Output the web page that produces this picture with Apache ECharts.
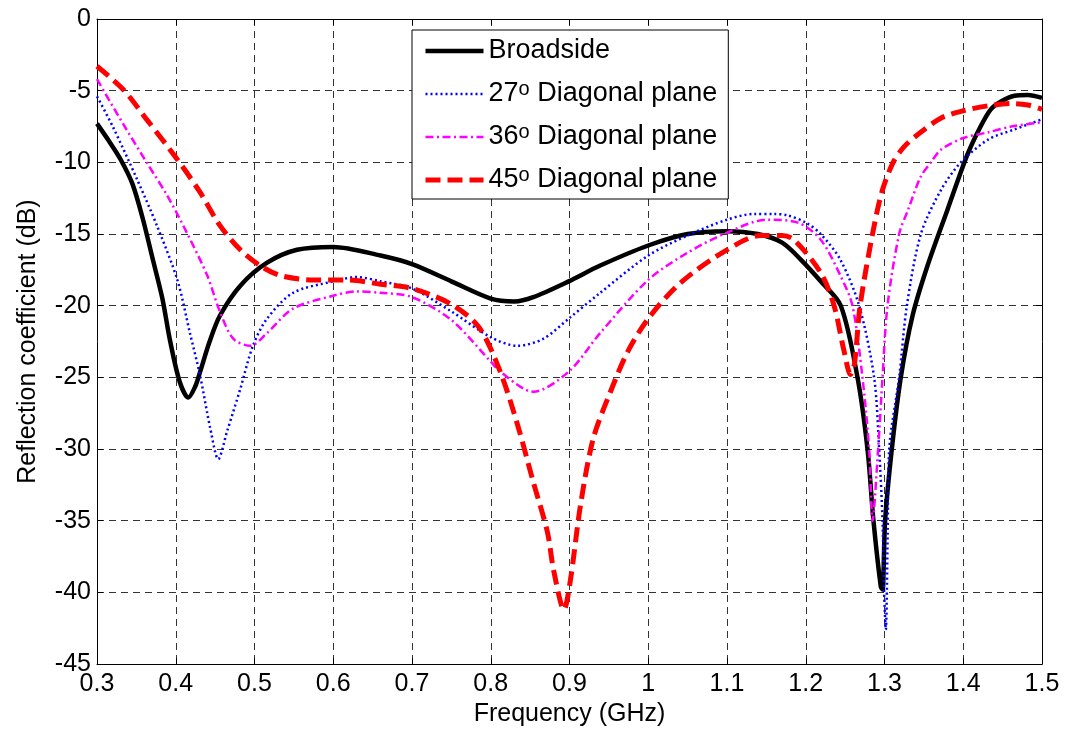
<!DOCTYPE html>
<html>
<head>
<meta charset="utf-8">
<script src="https://cdn.jsdelivr.net/npm/echarts@6/dist/echarts.min.js"></script>
<style>
html,body{margin:0;padding:0;background:#fff;}
#chart{width:1066px;height:732px;}
</style>
</head>
<body>
<div id="chart"></div>
<script>
// ---- Data ----
const seriesNames = ['Broadside', '27° Diagonal plane', '36° Diagonal plane', '45° Diagonal plane'];
const legendDeg = ['', '27', '36', '45'];

const xTicks = [0.3,0.4,0.5,0.6,0.7,0.8,0.9,1.0,1.1,1.2,1.3,1.4,1.5];
const yTicks = [0,-5,-10,-15,-20,-25,-30,-35,-40,-45];

const freqBroadside = [0.30,0.315,0.33,0.345,0.358,0.371,0.383,0.393,0.405,0.416,0.425,0.431,0.443,0.456,0.482,0.516,0.554,0.60,0.66,0.70,0.75,0.80,0.83,0.854,0.899,0.939,1.00,1.05,1.10,1.139,1.17,1.194,1.219,1.2445,1.2657,1.2784,1.286,1.2953,1.2975,1.3008,1.3093,1.3207,1.3356,1.3547,1.38,1.405,1.422,1.435,1.448,1.465,1.482,1.50];
const dbBroadside   = [-7.3,-8.5,-9.8,-11.5,-13.9,-16.8,-19.5,-22.5,-25.3,-26.4,-25.6,-24.6,-22.5,-20.7,-18.6,-17.0,-16.1,-15.9,-16.5,-17.1,-18.3,-19.5,-19.7,-19.4,-18.3,-17.2,-15.8,-15.0,-14.8,-15.0,-15.6,-16.8,-18.3,-20.0,-25.0,-30.0,-35.0,-39.6,-39.8,-35.0,-30.0,-25.0,-20.7,-17.2,-13.3,-9.5,-7.5,-6.3,-5.75,-5.35,-5.3,-5.5];

const freq27 = [0.30,0.32,0.351,0.376,0.402,0.418,0.431,0.444,0.454,0.465,0.482,0.498,0.516,0.549,0.60,0.63,0.66,0.70,0.75,0.80,0.834,0.867,0.899,0.939,1.00,1.05,1.10,1.134,1.16,1.177,1.20,1.219,1.244,1.2678,1.2868,1.2932,1.2975,1.2995,1.3017,1.304,1.306,1.3186,1.3284,1.3462,1.372,1.397,1.432,1.465,1.50];
const db27   = [-5.4,-7.5,-11.2,-14.4,-18.2,-21.9,-24.9,-28.6,-30.7,-28.8,-25.8,-22.8,-20.9,-19.1,-18.3,-18.0,-18.3,-18.8,-20.4,-22.2,-22.8,-22.3,-20.9,-19.1,-16.5,-15.1,-14.0,-13.6,-13.6,-13.7,-14.2,-15.0,-16.8,-20.0,-25.0,-30.0,-35.0,-40.0,-42.6,-36.0,-30.0,-25.0,-20.0,-15.0,-11.9,-10.0,-8.4,-7.7,-7.0];

const freq36 = [0.30,0.333,0.363,0.389,0.414,0.44,0.456,0.473,0.495,0.516,0.549,0.60,0.63,0.66,0.70,0.75,0.80,0.812,0.854,0.899,0.939,1.00,1.05,1.10,1.151,1.19,1.219,1.244,1.2593,1.272,1.2805,1.2848,1.2919,1.2975,1.3038,1.3186,1.33,1.346,1.3589,1.372,1.40,1.432,1.461,1.50];
const db36   = [-4.2,-7.3,-10.0,-12.3,-14.9,-17.9,-20.4,-22.3,-22.8,-21.9,-20.2,-19.3,-19.0,-19.1,-19.4,-21.0,-23.9,-24.6,-26.0,-24.6,-21.9,-18.2,-16.3,-14.9,-14.0,-14.2,-15.4,-17.9,-20.0,-25.0,-30.0,-35.0,-30.0,-25.0,-20.0,-15.0,-13.3,-11.0,-10.0,-9.1,-8.3,-7.9,-7.5,-7.2];

const freq45 = [0.30,0.333,0.363,0.402,0.431,0.456,0.482,0.507,0.533,0.575,0.618,0.66,0.70,0.75,0.785,0.812,0.834,0.854,0.872,0.88,0.893,0.901,0.914,0.93,0.952,0.974,1.00,1.041,1.10,1.143,1.17,1.185,1.219,1.236,1.248,1.257,1.262,1.269,1.2848,1.297,1.311,1.325,1.346,1.372,1.40,1.432,1.461,1.482,1.50];
const db45   = [-3.3,-4.9,-7.0,-9.8,-12.1,-14.4,-16.1,-17.2,-17.9,-18.2,-18.2,-18.5,-18.8,-19.9,-21.5,-24.6,-28.3,-32.3,-35.8,-38.5,-41.2,-39.2,-33.9,-29.3,-26.0,-23.2,-20.9,-18.4,-16.1,-15.1,-15.1,-15.4,-17.7,-20.0,-23.0,-24.8,-24.0,-20.0,-15.0,-12.0,-10.0,-8.9,-7.9,-6.9,-6.4,-6.05,-5.9,-6.0,-6.3];

// ---- Styles ----
const FONT = '"Liberation Sans", Arial, Helvetica, sans-serif';
const lineStyles = [
  {color: '#000000', width: 4.5, type: 'solid'},
  {color: '#0000ff', width: 2.5, type: [2, 3]},
  {color: '#ff00ff', width: 2.5, type: [8, 3.5, 2, 3.5]},
  {color: '#ff0000', width: 5, type: [15, 7]}
];

// ---- Build chart ----
const pairs = (xs, ys) => xs.map((x, i) => [x, ys[i]]);
const seriesData = [
  pairs(freqBroadside, dbBroadside),
  pairs(freq27, db27),
  pairs(freq36, db36),
  pairs(freq45, db45)
];

const chart = echarts.init(document.getElementById('chart'), null, {renderer: 'canvas'});

const baseAxisLine = {show: true, onZero: false, lineStyle: {color: '#000', width: 1}};
const innerTick = {show: true, inside: true, length: 6, lineStyle: {color: '#000', width: 1}};
const gridLine = {show: true, lineStyle: {color: '#333', width: 1, type: [7, 5]}};

const option = {
  animation: false,
  backgroundColor: '#fff',
  grid: {left: 97, right: 24, top: 19, bottom: 66, containLabel: false},
  legend: {
    show: true,
    orient: 'vertical',
    left: 412, top: 30,
    data: seriesNames.map((n, i) => ({
      name: n,
      lineStyle: {width: lineStyles[i].width, type: lineStyles[i].type, color: lineStyles[i].color, cap: 'butt'}
    })),
    itemWidth: 58, itemHeight: 14, itemGap: 13,
    padding: [6, 11, 4, 11],
    borderColor: '#000', borderWidth: 1,
    backgroundColor: '#fff',
    selectedMode: false,
    itemStyle: {color: 'rgba(0,0,0,0)', borderColor: 'rgba(0,0,0,0)', borderWidth: 0},
    textStyle: {
      fontFamily: FONT, fontSize: 27, color: '#000', lineHeight: 30,
      rich: {
        sup: {fontFamily: FONT, fontSize: 20, color: '#000', verticalAlign: 'top', lineHeight: 16}
      }
    },
    formatter: function (name) {
      const i = seriesNames.indexOf(name);
      if (i <= 0) return name;
      return legendDeg[i] + '{sup|o} Diagonal plane';
    }
  },
  xAxis: [{
    type: 'value', position: 'bottom',
    min: 0.3, max: 1.5, interval: 0.1,
    axisLine: baseAxisLine, axisTick: innerTick, splitLine: gridLine,
    axisLabel: {
      show: true, margin: 8, color: '#000', fontFamily: FONT, fontSize: 25,
      formatter: v => String(+(+v).toFixed(1))
    },
    name: 'Frequency (GHz)', nameLocation: 'middle', nameGap: 32,
    nameTextStyle: {fontFamily: FONT, fontSize: 25, color: '#000'}
  }, {
    type: 'value', position: 'top',
    min: 0.3, max: 1.5, interval: 0.1,
    axisLine: baseAxisLine, axisTick: innerTick, splitLine: {show: false},
    axisLabel: {show: false}
  }],
  yAxis: [{
    type: 'value', position: 'left',
    min: -45, max: 0, interval: 5,
    axisLine: baseAxisLine, axisTick: innerTick, splitLine: gridLine,
    axisLabel: {show: true, margin: 6, color: '#000', fontFamily: FONT, fontSize: 25},
    name: 'Reflection coefficient (dB)', nameLocation: 'middle', nameGap: 56,
    nameTextStyle: {fontFamily: FONT, fontSize: 25, color: '#000'}
  }, {
    type: 'value', position: 'right',
    min: -45, max: 0, interval: 5,
    axisLine: baseAxisLine, axisTick: innerTick, splitLine: {show: false},
    axisLabel: {show: false}
  }],
  series: seriesNames.map((n, i) => ({
    name: n, type: 'line', xAxisIndex: 0, yAxisIndex: 0,
    data: seriesData[i],
    showSymbol: false, symbol: 'none', smooth: 0.3, z: 5 + i,
    lineStyle: lineStyles[i],
    itemStyle: {color: lineStyles[i].color}
  }))
};
chart.setOption(option);
</script>
</body>
</html>
